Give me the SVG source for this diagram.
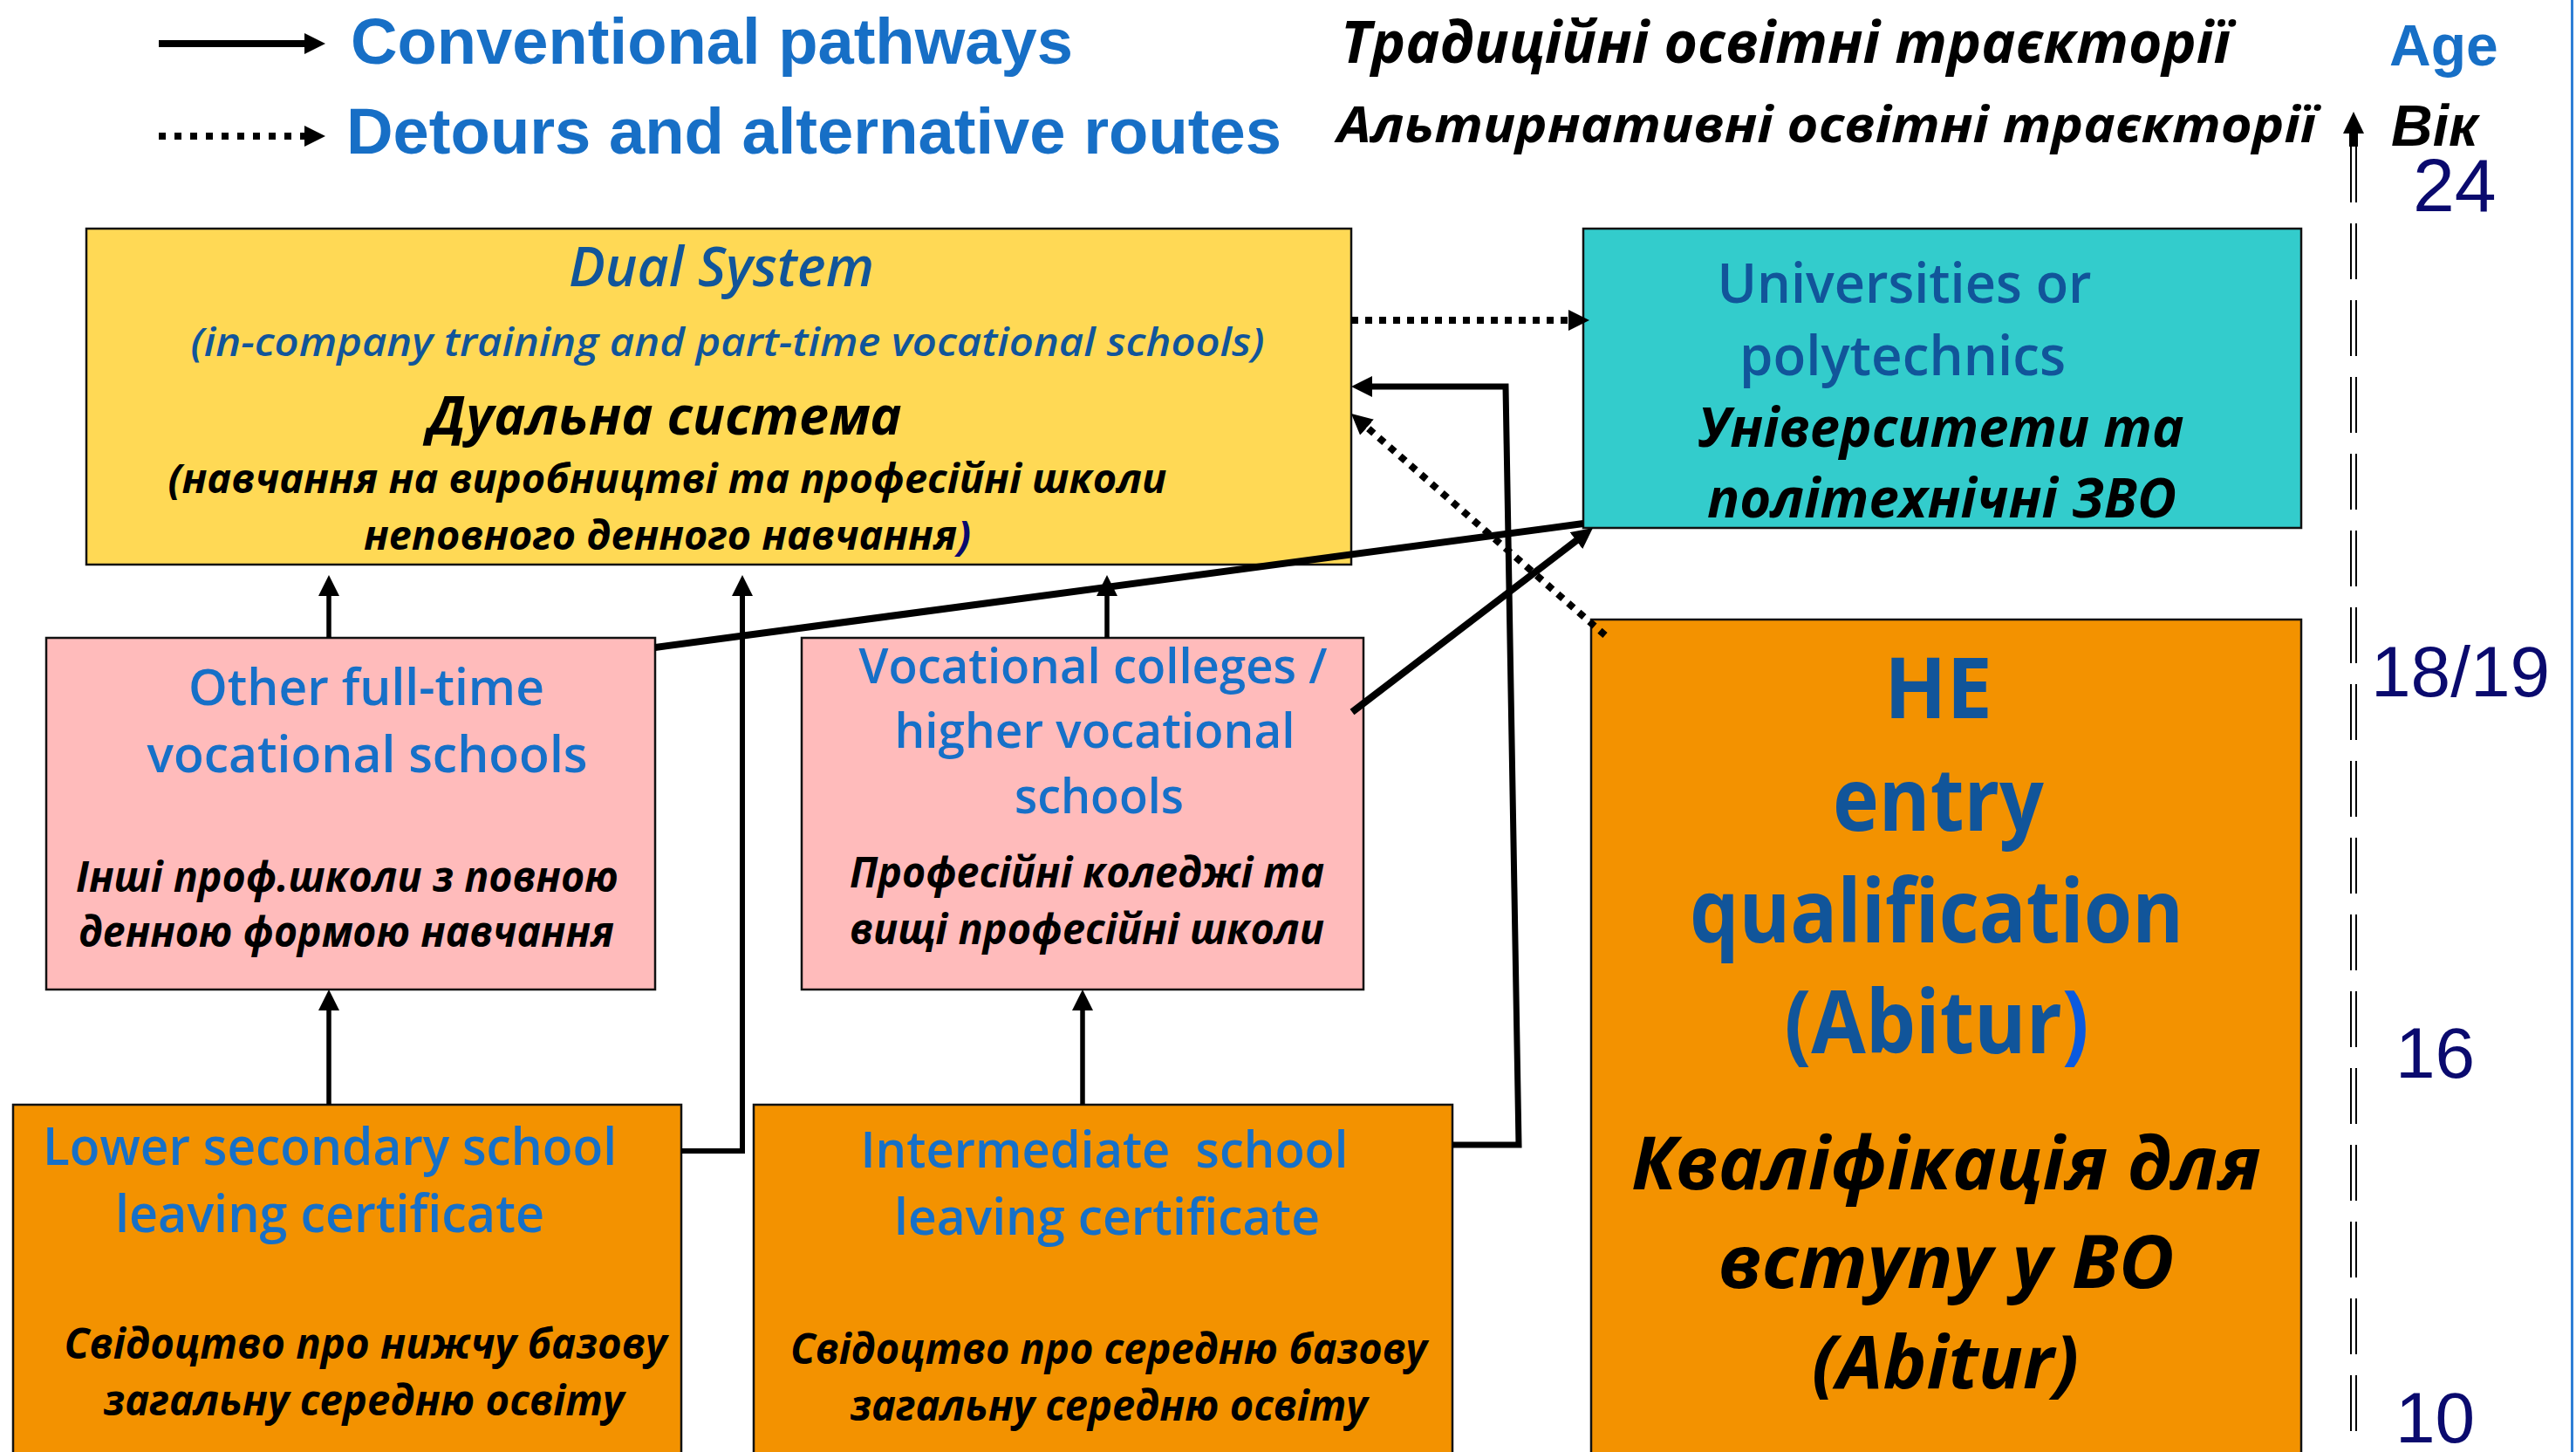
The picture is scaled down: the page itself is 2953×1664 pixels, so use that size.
<svg xmlns="http://www.w3.org/2000/svg" width="2953" height="1664" viewBox="0 0 2953 1664">
<style>
.box{stroke:#111;stroke-width:2.5}
.en{font-family:"Open Sans","Noto Sans",sans-serif;font-weight:600}
.b{font-weight:700}
.uk{font-family:"Open Sans","Noto Sans",sans-serif;font-weight:700;font-style:italic;fill:#000}
.it{font-style:italic}
.dk{fill:#11559a}
.bl{fill:#1670c8}
.c{text-anchor:middle}
.ln{fill:none;stroke:#000;stroke-linejoin:miter}
.dot{stroke-dasharray:8 8}
.num{font-family:"Liberation Sans",Arial,sans-serif;fill:#0a0a6e;font-size:82px}
.leg{font-family:"Liberation Sans",Arial,sans-serif;font-weight:700;fill:#176fc6}
</style>
<defs>
<marker id="ah" markerUnits="userSpaceOnUse" markerWidth="24" markerHeight="24" viewBox="0 0 24 24" refX="1" refY="12" orient="auto"><path d="M0,0 L24,12 L0,24 z" fill="#000"/></marker>
</defs>
<rect width="2953" height="1664" fill="#fff"/>
<line x1="2948.5" y1="0" x2="2948.5" y2="1664" stroke="#2f7fd6" stroke-width="3"/>

<g id="legend">
<path class="ln" d="M182,50 H350" stroke-width="8" marker-end="url(#ah)"/>
<path class="ln" d="M182,156 H350" stroke-width="8" stroke-dasharray="8 10" marker-end="url(#ah)"/>
<text class="leg" x="402" y="73" font-size="74" textLength="828" lengthAdjust="spacingAndGlyphs">Conventional pathways</text>
<text class="leg" x="397" y="176" font-size="74" textLength="1072" lengthAdjust="spacingAndGlyphs">Detours and alternative routes</text>
<text class="uk" x="1537" y="72" font-size="66" textLength="1020" lengthAdjust="spacingAndGlyphs">Традиційні освітні траєкторії</text>
<text class="uk" x="1533" y="163" font-size="58" textLength="1122" lengthAdjust="spacingAndGlyphs">Альтирнативні освітні траєкторії</text>
</g>

<g id="age-axis">
<polygon points="2698,128 2710,153 2686,153" fill="#000"/>
<rect x="2693" y="151" width="10" height="17" fill="#000"/>
<path d="M2695,168 V1664 M2701,168 V1664" stroke="#000" stroke-width="2" stroke-dasharray="64 24" fill="none"/>
<text class="leg" x="2739" y="75" font-size="66">Age</text>
<text x="2741" y="167" font-size="66" font-family="Liberation Sans, Arial, sans-serif" font-weight="700" font-style="italic" fill="#000">Вік</text>
<text class="num" x="2766" y="242" style="font-size:86px">24</text>
<text class="num" x="2718" y="798">18/19</text>
<text class="num" x="2746" y="1235">16</text>
<text class="num" x="2746" y="1653">10</text>
</g>

<g id="dual-system">
<rect class="box" x="99" y="262" width="1450" height="385" fill="#ffd955"/>
<text class="en it dk c" x="827" y="328" font-size="63" textLength="350" lengthAdjust="spacingAndGlyphs">Dual System</text>
<text class="en it dk c" x="834" y="408" font-size="46" textLength="1231" lengthAdjust="spacingAndGlyphs">(in-company training and part-time vocational schools)</text>
<text class="uk c" x="762" y="498" font-size="60" textLength="543" lengthAdjust="spacingAndGlyphs">Дуальна система</text>
<text class="uk c" x="765" y="565" font-size="46" textLength="1145" lengthAdjust="spacingAndGlyphs">(навчання на виробництві та професійні школи</text>
<text class="uk c" x="765" y="630" font-size="46" textLength="696" lengthAdjust="spacingAndGlyphs">неповного денного навчання<tspan fill="#0a0a6e">)</tspan></text>
</g>

<g id="universities">
<rect class="box" x="1815" y="262" width="823" height="343" fill="#33cccc"/>
<text class="en dk c" x="2183" y="347" font-size="63" textLength="429" lengthAdjust="spacingAndGlyphs">Universities or</text>
<text class="en dk c" x="2181" y="430" font-size="63" textLength="374" lengthAdjust="spacingAndGlyphs">polytechnics</text>
<text class="uk c" x="2225" y="512" font-size="63" textLength="557" lengthAdjust="spacingAndGlyphs">Університети та</text>
<text class="uk c" x="2226" y="593" font-size="63" textLength="538" lengthAdjust="spacingAndGlyphs">політехнічні ЗВО</text>
</g>

<g id="other-fulltime">
<rect class="box" x="53" y="731" width="698" height="403" fill="#ffbbbb"/>
<text class="en bl c" x="420" y="808" font-size="57" textLength="408" lengthAdjust="spacingAndGlyphs">Other full-time</text>
<text class="en bl c" x="421" y="885" font-size="57" textLength="505" lengthAdjust="spacingAndGlyphs">vocational schools</text>
<text class="uk c" x="398" y="1022" font-size="49" textLength="622" lengthAdjust="spacingAndGlyphs">Інші проф.школи з повною</text>
<text class="uk c" x="397" y="1085" font-size="49" textLength="614" lengthAdjust="spacingAndGlyphs">денною формою навчання</text>
</g>

<g id="vocational-colleges">
<rect class="box" x="919" y="731" width="644" height="403" fill="#ffbbbb"/>
<text class="en bl c" x="1253" y="783" font-size="56" textLength="537" lengthAdjust="spacingAndGlyphs">Vocational colleges /</text>
<text class="en bl c" x="1255" y="857" font-size="56" textLength="459" lengthAdjust="spacingAndGlyphs">higher vocational</text>
<text class="en bl c" x="1260" y="932" font-size="56" textLength="194" lengthAdjust="spacingAndGlyphs">schools</text>
<text class="uk c" x="1246" y="1017" font-size="48" textLength="544" lengthAdjust="spacingAndGlyphs">Професійні коледжі та</text>
<text class="uk c" x="1246" y="1082" font-size="48" textLength="544" lengthAdjust="spacingAndGlyphs">вищі професійні школи</text>
</g>

<g id="he-entry">
<rect class="box" x="1824" y="710" width="814" height="980" fill="#f39200"/>
<text class="en b dk c" x="2222" y="823" font-size="97" textLength="124" lengthAdjust="spacingAndGlyphs">HE</text>
<text class="en b dk c" x="2222" y="952" font-size="100" textLength="242" lengthAdjust="spacingAndGlyphs">entry</text>
<text class="en b dk c" x="2220" y="1080" font-size="100" textLength="566" lengthAdjust="spacingAndGlyphs">qualification</text>
<text class="en b dk c" x="2220" y="1207" font-size="100" textLength="349" lengthAdjust="spacingAndGlyphs">(Abitur<tspan fill="#0a5ae0">)</tspan></text>
<text class="uk c" x="2231" y="1363" font-size="85" textLength="722" lengthAdjust="spacingAndGlyphs">Кваліфікація для</text>
<text class="uk c" x="2231" y="1476" font-size="85" textLength="523" lengthAdjust="spacingAndGlyphs">вступу у ВО</text>
<text class="uk c" x="2230" y="1591" font-size="85" textLength="306" lengthAdjust="spacingAndGlyphs">(Abitur)</text>
</g>

<g id="lower-secondary">
<rect class="box" x="15" y="1266" width="766" height="420" fill="#f39200"/>
<text class="en bl c" x="378" y="1335" font-size="59" textLength="658" lengthAdjust="spacingAndGlyphs">Lower secondary school</text>
<text class="en bl c" x="378" y="1412" font-size="59" textLength="492" lengthAdjust="spacingAndGlyphs">leaving certificate</text>
<text class="uk c" x="419" y="1557" font-size="48" textLength="691" lengthAdjust="spacingAndGlyphs">Свідоцтво про нижчу базову</text>
<text class="uk c" x="417" y="1622" font-size="48" textLength="597" lengthAdjust="spacingAndGlyphs">загальну середню освіту</text>
</g>

<g id="intermediate">
<rect class="box" x="864" y="1266" width="801" height="420" fill="#f39200"/>
<text class="en bl c" x="1266" y="1338" font-size="58" textLength="559" lengthAdjust="spacingAndGlyphs" xml:space="preserve">Intermediate  school</text>
<text class="en bl c" x="1269" y="1415" font-size="58" textLength="488" lengthAdjust="spacingAndGlyphs">leaving certificate</text>
<text class="uk c" x="1271" y="1563" font-size="48" textLength="730" lengthAdjust="spacingAndGlyphs">Свідоцтво про середню базову</text>
<text class="uk c" x="1271" y="1628" font-size="48" textLength="593" lengthAdjust="spacingAndGlyphs">загальну середню освіту</text>
</g>

<g id="connectors">
<path class="ln dot" d="M1549,367 H1799" stroke-width="8" marker-end="url(#ah)"/>
<path class="ln" d="M1665,1312 H1741 L1726,443 H1572" stroke-width="7" marker-end="url(#ah)"/>
<path class="ln" d="M781,1319 H851 V682" stroke-width="6" marker-end="url(#ah)"/>
<path class="ln" d="M377,1266 V1157" stroke-width="5.5" marker-end="url(#ah)"/>
<path class="ln" d="M377,731 V682" stroke-width="5.5" marker-end="url(#ah)"/>
<path class="ln" d="M1241,1266 V1157" stroke-width="5.5" marker-end="url(#ah)"/>
<path class="ln" d="M1269,731 V682" stroke-width="5.5" marker-end="url(#ah)"/>
<path class="ln" d="M751,742 L1815,600" stroke-width="8"/>
<path class="ln" d="M1550,816 L1807.7,619" stroke-width="8" marker-end="url(#ah)"/>
<path class="ln dot" d="M1840,728 L1566.3,489.1" stroke-width="8" marker-end="url(#ah)"/>
</g>
</svg>
